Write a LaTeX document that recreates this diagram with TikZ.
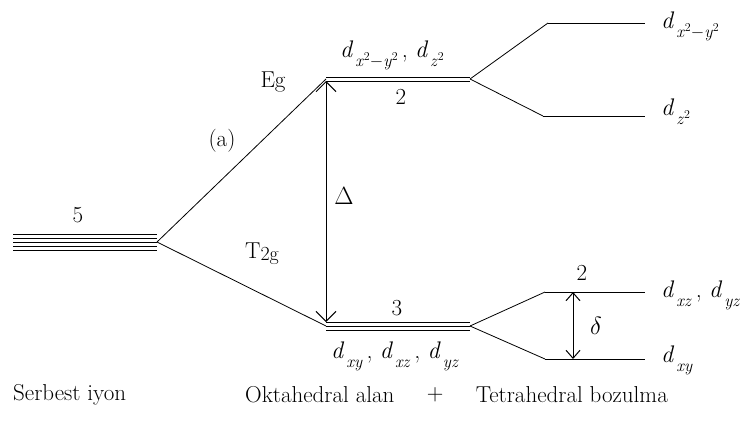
\documentclass[tikz,border=0pt]{standalone}
\usetikzlibrary{arrows.meta,calc}
% orbital label: italic d with a lowered subscript
\newcommand{\dorb}[1]{\textit{d}\hspace{2pt}\raisebox{-9pt}{\fontsize{17}{17}\selectfont #1}}
\newcommand{\sq}[1]{\textit{#1}\raisebox{6pt}{\fontsize{12}{12}\selectfont 2}}
\begin{document}
\begin{tikzpicture}[
  x=1pt, y=-1pt,
  lvl/.style={line width=1pt},
  branch/.style={line width=0.8pt},
  lbl/.style={font=\fontsize{23}{27}\selectfont, inner sep=0pt},
  orb/.style={font=\fontsize{24}{28}\selectfont, inner sep=0pt, anchor=base west},
  gap/.style={<->, >={Straight Barb[length=10pt, width=20pt]}, line width=1pt},
  smallgap/.style={<->, >={Straight Barb[length=8pt, width=14pt]}, line width=1pt}
]
\useasboundingbox (0,0) rectangle (751,421);
% free ion: five levels together
\coordinate (ionL) at (13,242);
\coordinate (ion) at (157,242);
\foreach \dy in {-8,-4,0,4,8}
  \draw[lvl] ([yshift=\dy pt]ionL) -- ([yshift=\dy pt]ion);
\node[lbl] (n5) at (78,215) {5};
% octahedral field
\coordinate (egL) at (326,79);
\coordinate (egR) at (470,79);
\coordinate (tgL) at (326,326);
\coordinate (tgR) at (470,326);
\foreach \dy in {-2,2}
  \draw[lvl] ([yshift=\dy pt]egL) -- ([yshift=\dy pt]egR);
\foreach \dy in {-4,0,4}
  \draw[lvl] ([yshift=\dy pt]tgL) -- ([yshift=\dy pt]tgR);
\draw[branch] (ion) -- (egL);
\draw[branch] (ion) -- (tgL);
\draw[gap] ([yshift=-2pt]egL) -- ([yshift=4pt]tgL);
\node[lbl] (eg) at (273,82) {Eg};
\node[lbl] (a) at (222,141) {(a)};
\node[lbl] (t2g) at (262,254) {T\raisebox{-2pt}{\fontsize{20}{22}\selectfont 2g}};
\node[lbl] (delta) at (344,196) {$\Delta$};
\node[lbl] (n2) at (401,97) {2};
\node[lbl] (n3) at (397,308) {3};
\node[orb] (egorb) at (340,57) {\dorb{\sq{x}$-$\sq{y}}\,, \dorb{\sq{z}}};
\node[orb] (tgorb) at (331,358) {\dorb{\textit{xy}}\,, \dorb{\textit{xz}}\,, \dorb{\textit{yz}}};
% tetrahedral distortion, upper pair
\coordinate (x2L) at (548,23);
\coordinate (x2R) at (645,23);
\coordinate (z2L) at (543,116);
\coordinate (z2R) at (645,116);
\draw[branch] (egR) -- (x2L);
\draw[branch] (egR) -- (z2L);
\draw[lvl] (x2L) -- (x2R);
\draw[lvl] (z2L) -- (z2R);
\node[orb] (x2orb) at (661,28) {\dorb{\sq{x}$-$\sq{y}}};
\node[orb] (z2orb) at (661,115) {\dorb{\sq{z}}};
% tetrahedral distortion, lower pair
\coordinate (xzL) at (545,292);
\coordinate (xzR) at (645,292);
\coordinate (xyL) at (545,359);
\coordinate (xyR) at (645,359);
\draw[branch] (tgR) -- (xzL);
\draw[branch] (tgR) -- (xyL);
\draw[lvl] (xzL) -- (xzR);
\draw[lvl] (xyL) -- (xyR);
\coordinate (dtop) at (573,292);
\coordinate (dbot) at (573,359);
\draw[smallgap] (dtop) -- (dbot);
\node[lbl] (n2b) at (582,273) {2};
\node[lbl] (smalldelta) at (596,326) {$\delta$};
\node[orb] (xzorb) at (661,297) {\dorb{\textit{xz}}\,, \dorb{\textit{yz}}};
\node[orb] (xyorb) at (661,362) {\dorb{\textit{xy}}};
% bottom captions
\node[lbl, anchor=west] (free) at (13,395) {Serbest iyon};
\node[lbl, anchor=west] (okt) at (245,395) {Oktahedral alan};
\node[lbl, anchor=east] (tet) at (668,395) {Tetrahedral bozulma};
\node[lbl] (plus) at ($(okt.east)!0.5!(tet.west)$) {+};
\end{tikzpicture}
\end{document}
